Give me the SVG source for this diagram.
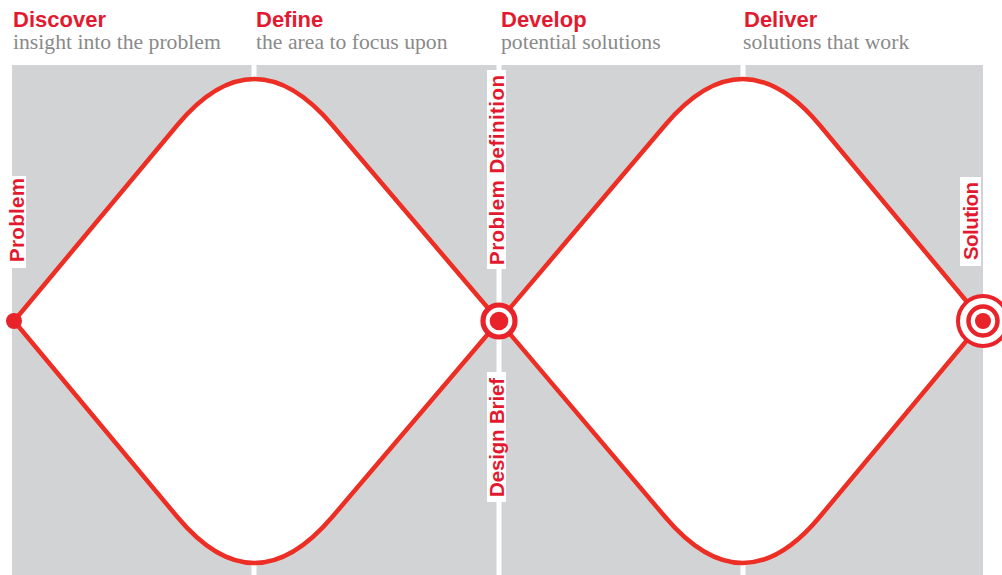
<svg xmlns="http://www.w3.org/2000/svg" width="1002" height="575" viewBox="0 0 1002 575">
  <style>
    .head { font-family: "Liberation Sans", Arial, sans-serif; font-weight: bold; font-size: 22px; fill: #e31a2f; }
    .sub { font-family: "Liberation Serif", "Times New Roman", serif; font-size: 21.7px; fill: #8a8a8a; }
    .vlab { font-family: "Liberation Sans", Arial, sans-serif; font-weight: bold; font-size: 20.5px; fill: #e31a2f; text-anchor: middle; }
    .panel { fill: #d2d3d5; }
    .diamond { fill: #ffffff; stroke: #ed2e24; stroke-width: 4.5; stroke-linejoin: round; }
    .red { fill: #e8232a; }
    .ring { fill: none; stroke: #e8232a; }
    .box { fill: #ffffff; }
  </style>
  <rect width="1002" height="575" fill="#ffffff"/>
  <g id="background">
    <rect class="panel" x="12" y="65" width="239.5" height="510"/>
    <rect class="panel" x="256.5" y="65" width="240" height="510"/>
    <rect class="panel" x="501.5" y="65" width="239" height="510"/>
    <rect class="panel" x="745.5" y="65" width="237.5" height="510"/>
  </g>
  <g id="headers">
    <g id="discover">
      <text class="head" x="13" y="27">Discover</text>
      <text class="sub" x="13" y="49">insight into the problem</text>
    </g>
    <g id="define">
      <text class="head" x="256" y="27">Define</text>
      <text class="sub" x="256" y="49">the area to focus upon</text>
    </g>
    <g id="develop">
      <text class="head" x="501" y="27">Develop</text>
      <text class="sub" x="501" y="49">potential solutions</text>
    </g>
    <g id="deliver">
      <text class="head" x="744" y="27">Deliver</text>
      <text class="sub" x="743" y="49">solutions that work</text>
    </g>
  </g>
  <g id="connectors">
    <path id="diamond-1" class="diamond" d="M14,321 L177.4,125 Q254,33 332.2,125 L499,321 L332.2,517 Q254,609 177.4,517 Z"/>
    <path id="diamond-2" class="diamond" d="M499,321 L665.2,125 Q743,33 819.6,125 L983,321 L819.6,517 Q743,609 665.2,517 Z"/>
  </g>
  <g id="problem">
    <rect class="box" x="8" y="176" width="18" height="92"/>
    <text class="vlab" transform="translate(24,220) rotate(-90)" textLength="84">Problem</text>
    <circle class="red" cx="14" cy="321" r="8"/>
  </g>
  <g id="problem-definition">
    <rect class="box" x="487" y="70" width="19" height="199"/>
    <text class="vlab" transform="translate(503.5,170) rotate(-90)" textLength="190">Problem Definition</text>
    <circle cx="499" cy="321" r="16" fill="#ffffff" stroke="#e8232a" stroke-width="5.2"/>
    <circle class="red" cx="499" cy="321" r="9.3"/>
  </g>
  <g id="design-brief">
    <rect class="box" x="487" y="372" width="19" height="130"/>
    <text class="vlab" transform="translate(503.5,437.5) rotate(-90)" textLength="119">Design Brief</text>
  </g>
  <g id="solution">
    <rect class="box" x="960" y="177" width="21" height="89"/>
    <text class="vlab" transform="translate(977.5,221) rotate(-90)" textLength="78">Solution</text>
    <circle cx="983" cy="321" r="25" fill="#ffffff" stroke="#e8232a" stroke-width="4"/>
    <circle class="ring" cx="983" cy="321" r="14.5" stroke-width="4.5"/>
    <circle class="red" cx="983" cy="321" r="8"/>
  </g>
</svg>
